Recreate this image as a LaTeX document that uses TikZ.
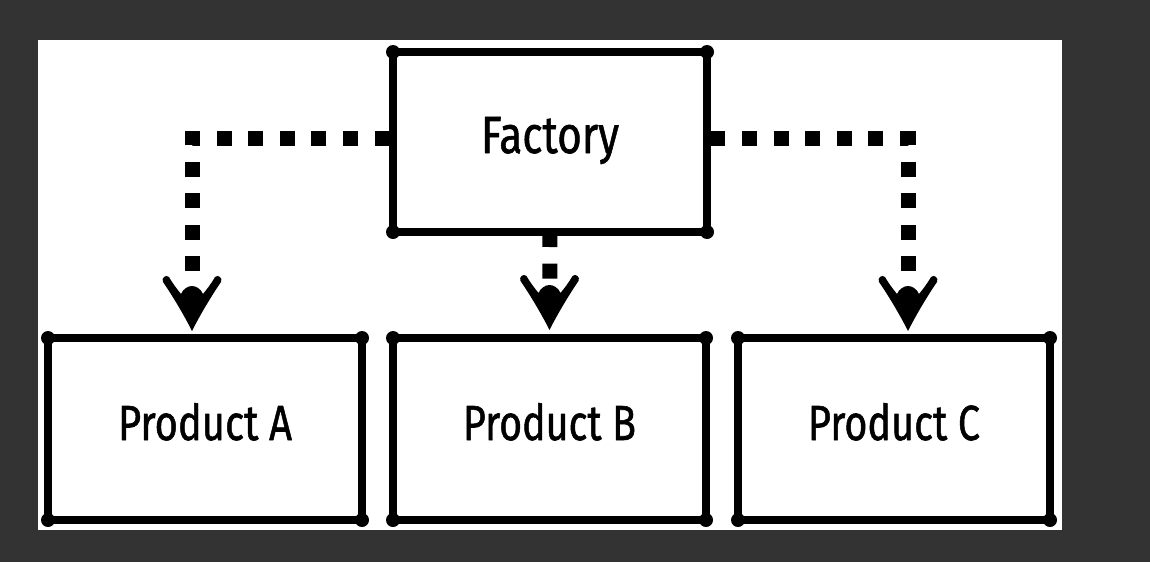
\documentclass[tikz,border=0pt]{standalone}
\usepackage{fontspec}
\setmainfont{Fira Sans}[FakeBold=1.2]
\definecolor{bgdark}{RGB}{51,51,51}
\tikzset{
  boxnode/.style={draw=black, line width=7.5pt, fill=white, inner sep=0pt, outer sep=0pt,
    line join=round, text height=22pt, text depth=0pt, anchor=center},
  dashconn/.style={draw=black, line width=15pt, line cap=butt, line join=miter,
    dash pattern=on 15pt off 16.6pt},
  barb/.pic={
    \fill[black] (0,2) .. controls (-8,-14) and (-20,-34) .. (-29,-47)
      .. controls (-31,-51) and (-26,-55) .. (-23,-52)
      .. controls (-19,-45) and (-15,-40) .. (-11,-35)
      .. controls (-9,-40) and (-4,-43) .. (0,-43)
      .. controls (4,-43) and (9,-40) .. (11,-35)
      .. controls (15,-40) and (19,-45) .. (23,-52)
      .. controls (26,-55) and (31,-51) .. (29,-47)
      .. controls (20,-34) and (8,-14) .. (0,2) -- cycle;
  }
}
\begin{document}
\begin{tikzpicture}[x=1pt,y=-1pt]
\useasboundingbox (0,0) rectangle (1150,562);
\fill[bgdark] (0,0) rectangle (1150,562);
\fill[white] (38,40) rectangle (1062,530);

\node[boxnode, minimum width=314pt, minimum height=180pt] (F) at (550,142)
  {\resizebox{138pt}{36pt}{Factory}};
\node[boxnode, minimum width=314pt, minimum height=182pt] (A) at (205,429)
  {\resizebox{174pt}{37pt}{Product A}};
\node[boxnode, minimum width=313pt, minimum height=182pt] (B) at (549.5,429)
  {\resizebox{173pt}{37pt}{Product B}};
\node[boxnode, minimum width=312pt, minimum height=182pt] (C) at (894,429)
  {\resizebox{172pt}{37pt}{Product C}};

\foreach \n in {F,A,B,C}{
  \foreach \c in {north west,north east,south west,south east}{
    \fill[black] (\n.\c) circle (7pt);
  }
}

\draw[dashconn, dash phase=28.2pt, shorten >=62pt]
  ([yshift=4pt]F.west) -| ([xshift=-13pt]A.north);
\draw[dashconn, shorten >=53pt] (F.south) -- (B.north);
\draw[dashconn, dash phase=28.2pt, shorten >=62pt]
  ([yshift=4pt]F.east) -| ([xshift=14pt]C.north);

\pic at ([xshift=-13pt,yshift=9pt]A.north) {barb};
\pic at ([yshift=10pt]B.north) {barb};
\pic at ([xshift=14pt,yshift=9pt]C.north) {barb};
\end{tikzpicture}
\end{document}
